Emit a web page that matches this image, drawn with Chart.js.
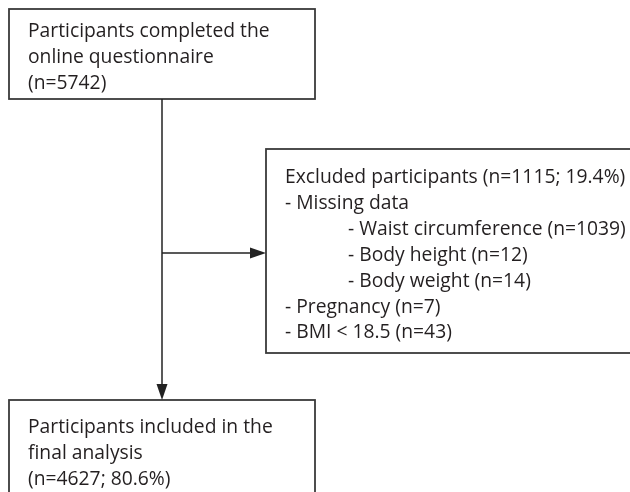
<!DOCTYPE html>
<html>
<head>
    <title>Participant Flow</title>
    <script src="https://cdn.jsdelivr.net/npm/chart.js@4.4.0/dist/chart.umd.min.js"></script>
    <style>
        html, body { margin: 0; padding: 0; background: #fff; }
        #wrap { width: 630px; height: 492px; }
    </style>
</head>
<body>
    <div id="wrap"><canvas id="myChart"></canvas></div>

    <script>
        // Box texts
        var topBoxLines = ['Participants completed the', 'online questionnaire', '(n=5742)'];
        var excludedLines = [
            'Excluded participants (n=1115; 19.4%)',
            '- Missing data',
            '- Waist circumference (n=1039)',
            '- Body height (n=12)',
            '- Body weight (n=14)',
            '- Pregnancy (n=7)',
            '- BMI < 18.5 (n=43)'
        ];
        var excludedIndent = [0, 0, 1, 1, 1, 0, 0];
        var bottomBoxLines = ['Participants included in the', 'final analysis', '(n=4627; 80.6%)'];

        // Layout in scale units (x: 0-630, y: 0-492 top down)
        var boxes = [
            { lines: topBoxLines, left: 9, top: 9, right: 315, bottom: 99, textX: 28, firstBase: 37 },
            { lines: excludedLines, indent: excludedIndent, left: 266, top: 149, right: 640, bottom: 353, textX: 285, firstBase: 183 },
            { lines: bottomBoxLines, left: 9, top: 400, right: 315, bottom: 500, textX: 28, firstBase: 433 }
        ];
        var lineGap = 25.9;
        var indentX = 348;
        var mainX = 162, branchY = 253;

        var ink = '#231f20';
        var font = '19.3px "Open Sans", sans-serif';

        var flowPlugin = {
            id: 'flow',
            afterDraw: function (chart) {
                var ctx = chart.ctx;
                var xs = chart.scales.x, ys = chart.scales.y;
                var px = function (v) { return xs.getPixelForValue(v); };
                var py = function (v) { return ys.getPixelForValue(v); };
                ctx.save();
                ctx.strokeStyle = '#3a3a3a';
                ctx.lineWidth = 1.8;
                ctx.fillStyle = ink;
                ctx.font = font;
                ctx.textBaseline = 'alphabetic';

                boxes.forEach(function (b) {
                    ctx.strokeRect(px(b.left), py(b.top), px(b.right) - px(b.left), py(b.bottom) - py(b.top));
                    b.lines.forEach(function (t, i) {
                        var x = (b.indent && b.indent[i]) ? indentX : b.textX;
                        ctx.fillText(t, px(x), py(b.firstBase + i * lineGap));
                    });
                });

                // main vertical line
                ctx.strokeStyle = '#222';
                ctx.lineWidth = 1.5;
                ctx.beginPath();
                ctx.moveTo(px(mainX), py(99));
                ctx.lineTo(px(mainX), py(388));
                ctx.stroke();
                // branch line
                ctx.beginPath();
                ctx.moveTo(px(mainX), py(branchY));
                ctx.lineTo(px(254), py(branchY));
                ctx.stroke();

                // arrowheads
                ctx.fillStyle = '#222';
                ctx.beginPath();
                ctx.moveTo(px(mainX), py(400));
                ctx.lineTo(px(mainX - 5.5), py(384));
                ctx.lineTo(px(mainX + 5.5), py(384));
                ctx.closePath();
                ctx.fill();
                ctx.beginPath();
                ctx.moveTo(px(266), py(branchY));
                ctx.lineTo(px(250), py(branchY - 5.5));
                ctx.lineTo(px(250), py(branchY + 5.5));
                ctx.closePath();
                ctx.fill();
                ctx.restore();
            }
        };

        var config = {
            type: 'scatter',
            data: { datasets: [{ data: [] }] },
            options: {
                responsive: true,
                maintainAspectRatio: false,
                animation: false,
                layout: { padding: 0 },
                plugins: { legend: { display: false }, tooltip: { enabled: false } },
                scales: {
                    x: { type: 'linear', min: 0, max: 630, display: false },
                    y: { type: 'linear', min: 0, max: 492, reverse: true, display: false }
                }
            },
            plugins: [flowPlugin]
        };

        var ctx = document.getElementById('myChart').getContext('2d');
        var chart = new Chart(ctx, config);
    </script>
</body>
</html>
